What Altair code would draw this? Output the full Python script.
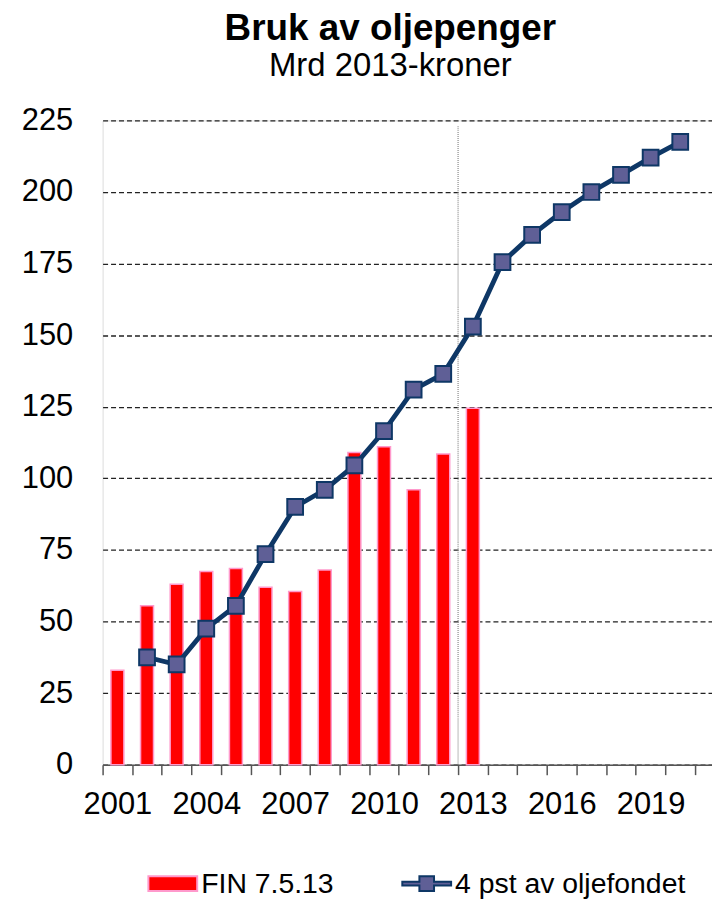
import altair as alt
import pandas as pd

# ---- data ----
all_years = list(range(2001, 2021))

bar_years = list(range(2001, 2014))
bar_values = [33, 55.5, 63, 67.5, 68.5, 62, 60.5, 68, 109, 111, 96, 108.5, 124.5]

line_years = list(range(2002, 2021))
line_values = [37.5, 35, 47.5, 55.5, 73.5, 90, 96, 104.5, 116.5, 131, 136.5,
               153, 175.5, 185, 193, 200, 206, 212, 217.5]

series_names = ["FIN 7.5.13", "4 pst av oljefondet"]
series_fills = ["#FF0000", "#5F5F96"]
series_strokes = ["#FF99CC", "#0E3766"]
series_symbols = [
    "M-1,-0.3H1V0.3H-1Z",
    "M-1,-0.08H-0.3V-0.3H0.3V-0.08H1V0.08H0.3V0.3H-0.3V0.08H-1Z",
]

divider_year = [2013]   # drawn at the left edge of this year's band
divider_top = [223]

y_ticks = list(range(0, 226, 25))

bars = pd.DataFrame({"year": bar_years, "value": bar_values, "series": series_names[0]})
line = pd.DataFrame({"year": line_years, "value": line_values, "series": series_names[1]})
divider = pd.DataFrame({"year": divider_year, "top": divider_top, "bottom": [0]})

FONT = "Liberation Sans"
NAVY = series_strokes[1]

x_scale = alt.Scale(domain=all_years, paddingInner=0, paddingOuter=0.286, align=0)

x_enc = alt.X(
    "year:O",
    scale=x_scale,
    axis=alt.Axis(
        labelExpr="((datum.value - 2001) % 3 == 0) ? datum.label : ''",
        labelAngle=0,
        labelAlign="center",
        labelOverlap=False,
        labelFontSize=31,
        labelFont=FONT,
        labelColor="#000000",
        labelPadding=30,
        tickBand="extent",
        tickSize=10,
        tickColor="#555555",
        tickWidth=1.5,
        domainColor="#555555",
        domainWidth=1.5,
        grid=False,
        title=None,
    ),
)

y_enc = alt.Y(
    "value:Q",
    scale=alt.Scale(domain=[0, 225], nice=False),
    axis=alt.Axis(
        values=y_ticks,
        grid=True,
        gridDash=[5, 3],
        gridColor="#222222",
        gridWidth=1.3,
        domain=False,
        ticks=False,
        labelFontSize=31,
        labelFont=FONT,
        labelColor="#000000",
        labelPadding=30,
        title=None,
    ),
)

legend = alt.Legend(
    orient="none",
    legendX=45,
    legendY=741,
    direction="horizontal",
    title=None,
    labelFont=FONT,
    labelFontSize=28.5,
    labelColor="#000000",
    labelOffset=3,
    labelLimit=400,
    symbolSize=2401,
    symbolStrokeWidth=2,
    symbolOpacity=1,
    columnPadding=64,
    padding=0,
)

fill_enc = alt.Fill("series:N", scale=alt.Scale(domain=series_names, range=series_fills), legend=legend)
stroke_enc = alt.Stroke("series:N", scale=alt.Scale(domain=series_names, range=series_strokes), legend=legend)
shape_enc = alt.Shape("series:N", scale=alt.Scale(domain=series_names, range=series_symbols), legend=legend)

bar_layer = alt.Chart(bars).mark_bar(size=13, strokeWidth=1.5).encode(
    x=x_enc, y=y_enc, fill=fill_enc, stroke=stroke_enc
)

divider_layer = alt.Chart(divider).mark_rule(
    color="#8A8A8A", strokeDash=[1, 1], strokeWidth=1.2
).encode(x=alt.X("year:O", bandPosition=0), y="top:Q", y2="bottom:Q")

line_layer = alt.Chart(line).mark_line(color=NAVY, strokeWidth=4.8).encode(
    x="year:O", y="value:Q"
)

point_layer = alt.Chart(line).mark_point(
    filled=True, size=250, strokeWidth=2, opacity=1
).encode(x="year:O", y="value:Q", fill=fill_enc, stroke=stroke_enc, shape=alt.value("square"))

legend_layer = alt.Chart(line).mark_point(opacity=0, size=0).encode(
    x="year:O", y="value:Q", shape=shape_enc
)

chart = alt.layer(divider_layer, bar_layer, line_layer, point_layer, legend_layer).properties(
    width=612,
    height=647,
    autosize=alt.AutoSizeParams(type="none"),
    padding={"left": 95, "top": 111, "right": 0, "bottom": 133},
    title=alt.TitleParams(
        text="Bruk av oljepenger",
        subtitle="Mrd 2013-kroner",
        font=FONT,
        subtitleFont=FONT,
        fontSize=37,
        subtitleFontSize=33,
        fontWeight="bold",
        color="#000000",
        subtitleColor="#000000",
        anchor="middle",
        dx=-17,
        offset=21,
        subtitlePadding=2,
    ),
).configure_view(stroke=None).configure(background="white")

chart.save("out.html", embed_options={"renderer": "svg", "actions": False})
